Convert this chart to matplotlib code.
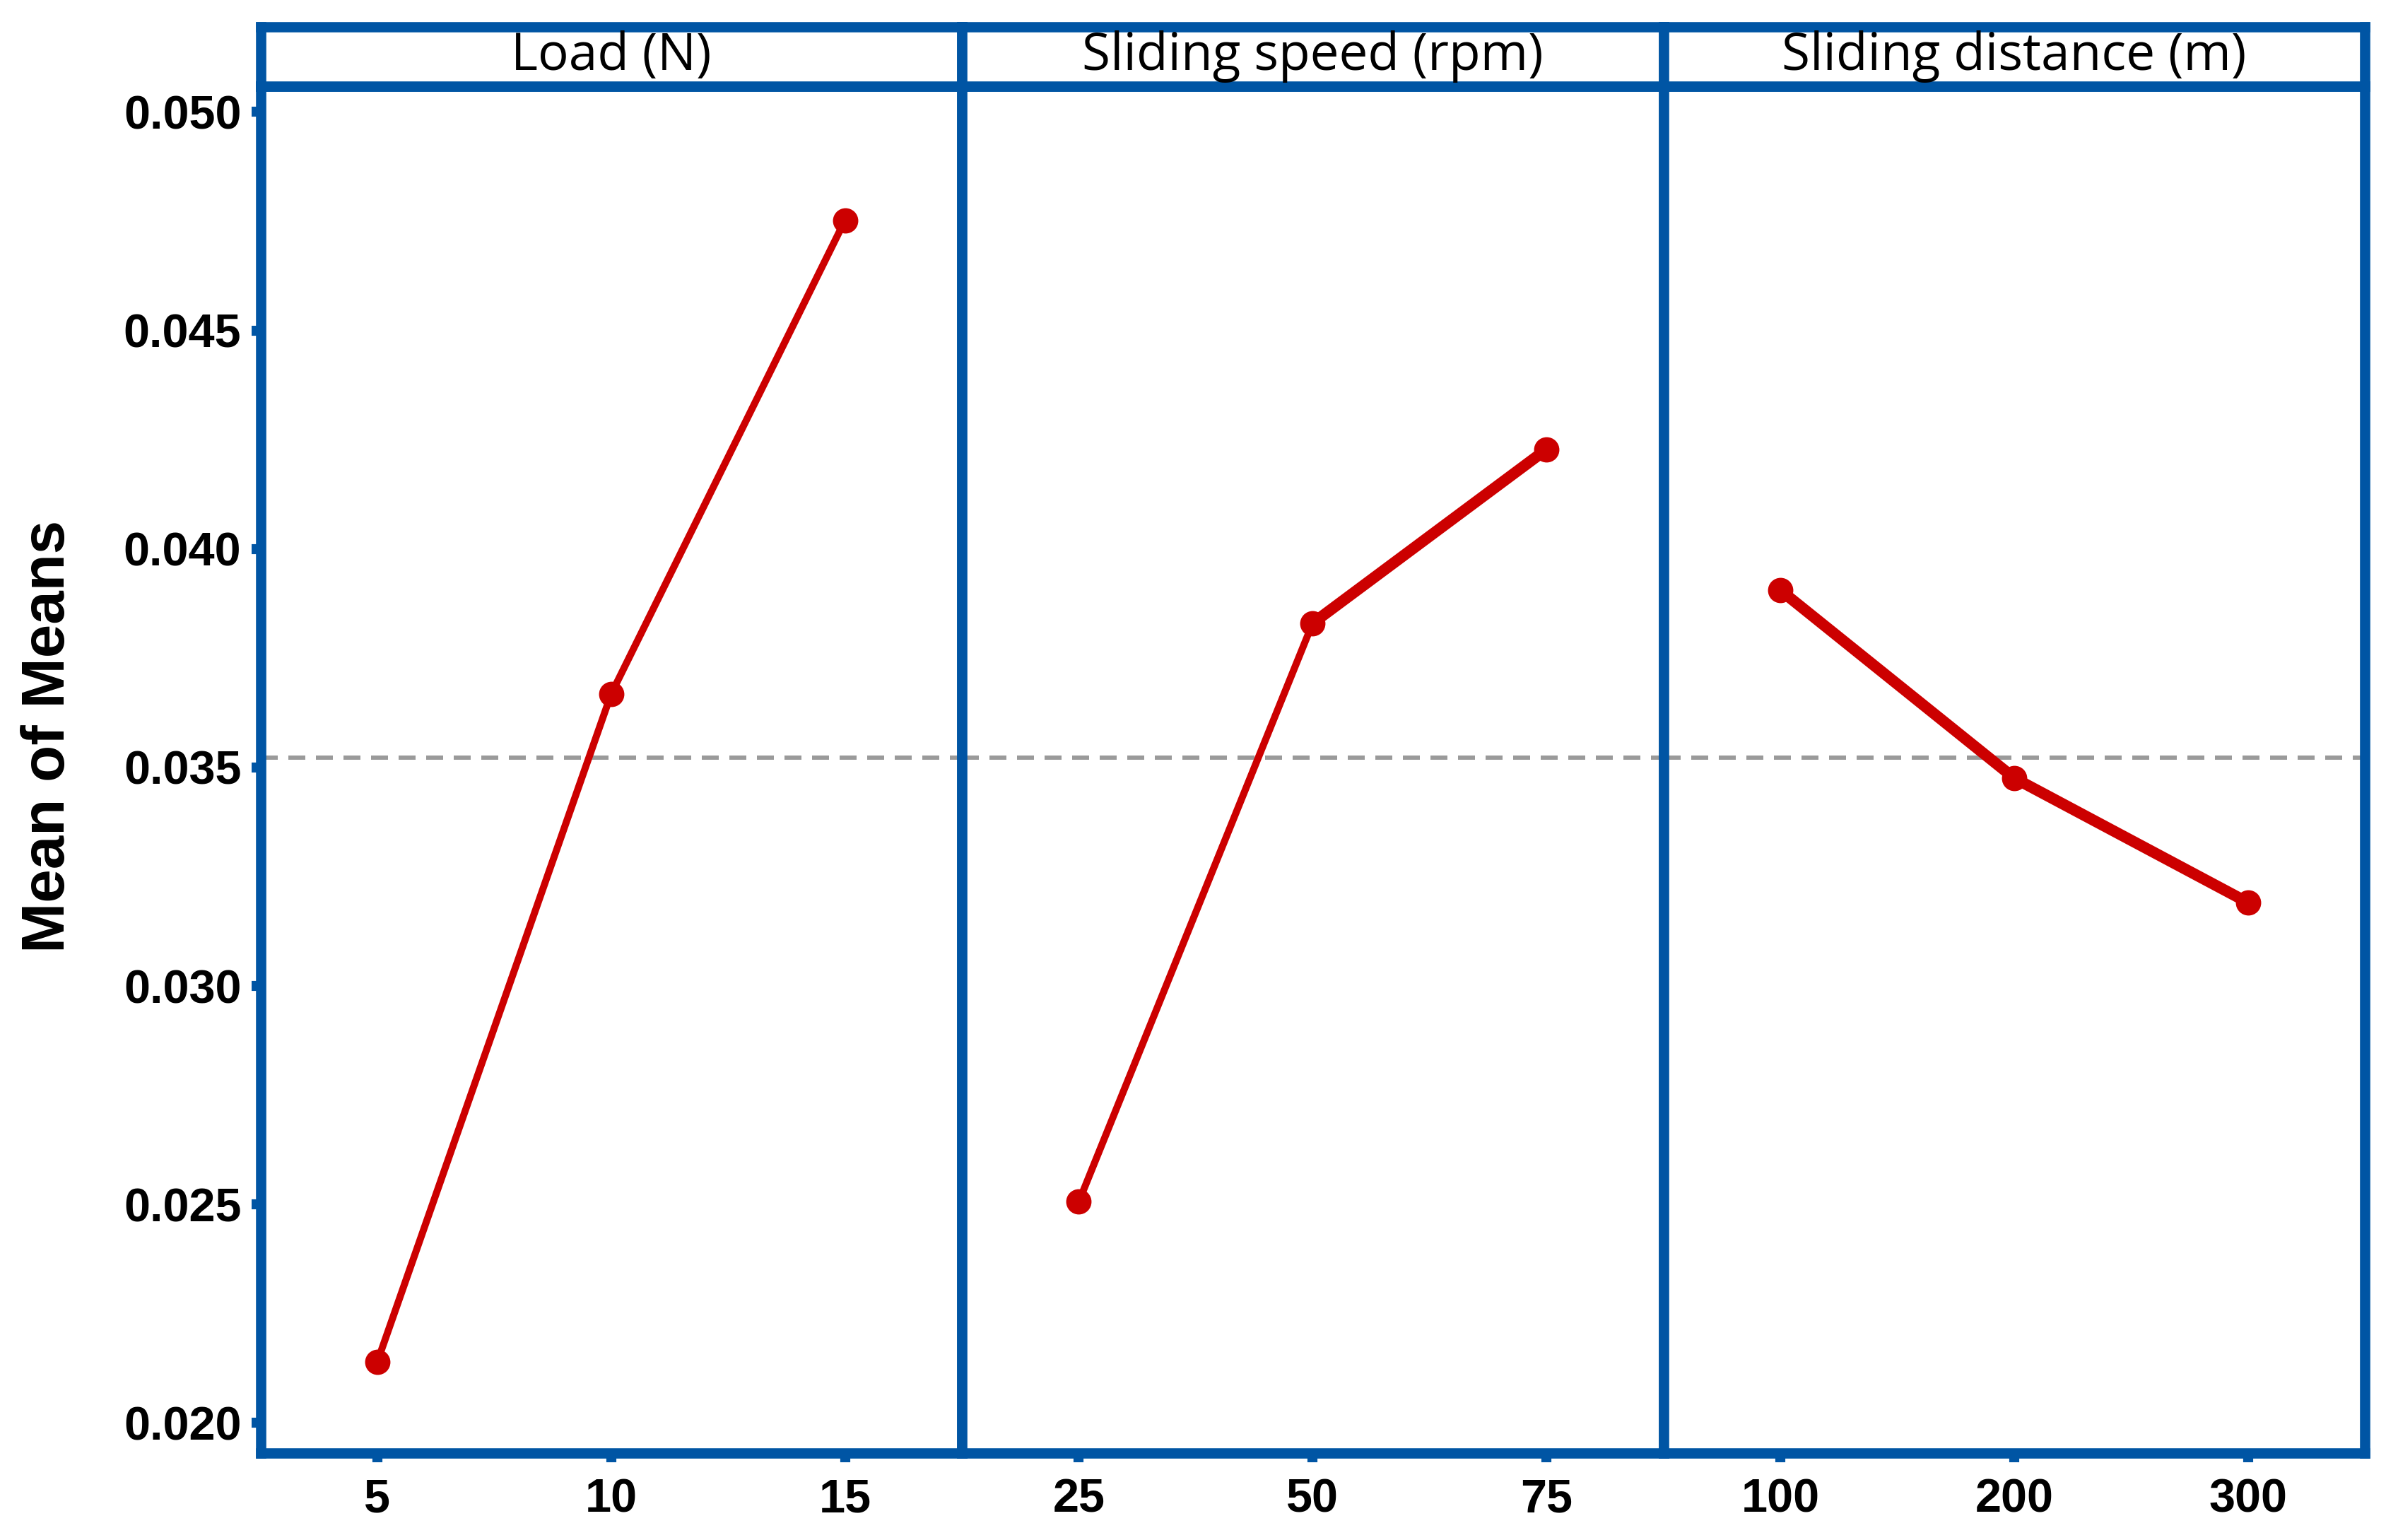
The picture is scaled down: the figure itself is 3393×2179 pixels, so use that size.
import numpy as np
import matplotlib
matplotlib.use('Agg')
import matplotlib.pyplot as plt

# main effects plot for means
factor_names = ['Load (N)', 'Sliding speed (rpm)', 'Sliding distance (m)']
load_levels = ['5', '10', '15']
speed_levels = ['25', '50', '75']
distance_levels = ['100', '200', '300']
load_means = [0.02140, 0.03668, 0.04752]
speed_means = [0.02506, 0.03830, 0.04228]
distance_means = [0.03906, 0.03476, 0.03191]
y_ticks = [0.020, 0.025, 0.030, 0.035, 0.040, 0.045, 0.050]

levels = [load_levels, speed_levels, distance_levels]
means = [load_means, speed_means, distance_means]
grand_mean = np.mean(load_means + speed_means + distance_means)

BLUE = '#0055A4'
RED = '#CC0000'
GREY = '#9A9A9A'
SPINE_W = 3.5

# segment widths (the less steep segments look heavier in the original)
seg_lw = [[2.4, 2.4], [2.4, 3.8], [3.8, 3.8]]

fig = plt.figure(figsize=(3393 / 300, 2179 / 300), dpi=300)

left = 368.5 / 3393
right = 3346 / 3393
bottom = 1 - 2056 / 2179
top = 1 - 122 / 2179
head_top = 1 - 37.5 / 2179
pw = (right - left) / 3

for i in range(3):
    ax = fig.add_axes([left + i * pw, bottom, pw, top - bottom])
    x = np.arange(len(levels[i]))
    y = means[i]

    ax.axhline(grand_mean, color=GREY, lw=1.44, linestyle=(0, (4, 2.5)), zorder=1)
    for j in range(len(x) - 1):
        ax.plot(x[j:j + 2], y[j:j + 2], color=RED, lw=seg_lw[i][j],
                solid_capstyle='round', zorder=3)
    ax.plot(x, y, 'o', color=RED, ms=7.6, zorder=4)

    ax.set_xlim(-0.5, 2.5)
    ax.set_ylim(0.01931, 0.05059)
    ax.set_xticks(x)
    ax.set_xticklabels(levels[i])
    for s in ax.spines.values():
        s.set_color(BLUE)
        s.set_linewidth(SPINE_W)
    ax.tick_params(axis='x', colors=BLUE, length=3.1, width=3.4, pad=5.5,
                   labelcolor='black', labelsize=16)
    if i == 0:
        ax.set_yticks(y_ticks)
        ax.set_yticklabels(['%.3f' % v for v in y_ticks])
        ax.tick_params(axis='y', colors=BLUE, length=3.1, width=3.4, pad=3.4,
                       labelcolor='black', labelsize=16)
    else:
        ax.set_yticks([])
    for lab in ax.get_xticklabels() + ax.get_yticklabels():
        lab.set_fontfamily(['Liberation Sans', 'DejaVu Sans'])
        lab.set_fontweight('bold')

    # header strip with the factor name
    hx = fig.add_axes([left + i * pw, top, pw, head_top - top])
    hx.set_xticks([])
    hx.set_yticks([])
    for s in hx.spines.values():
        s.set_color(BLUE)
        s.set_linewidth(SPINE_W)
    hx.text(0.5, 0.27, factor_names[i], ha='center', va='baseline',
            fontsize=17.5, family=['Open Sans', 'DejaVu Sans'], transform=hx.transAxes)

fig.text(69 / 3393, 0.522, 'Mean of Means', rotation=90, ha='center', va='center',
         fontsize=20.5, fontweight='bold', family=['Liberation Sans', 'DejaVu Sans'])

plt.savefig('out.png', dpi=300)
plt.close()
